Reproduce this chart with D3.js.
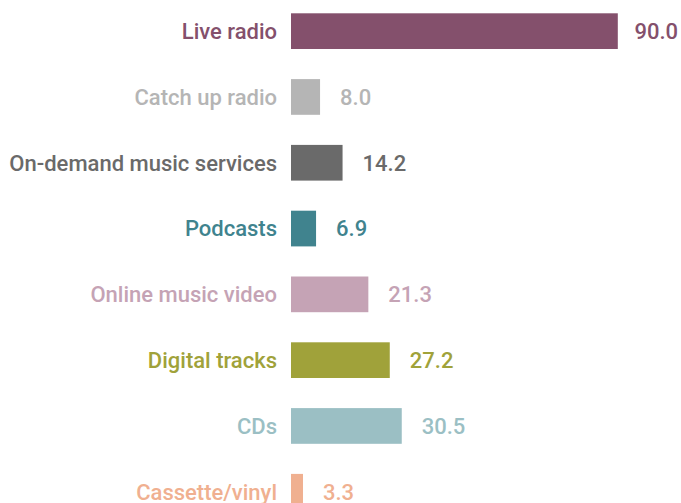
<!DOCTYPE html>
<html>
<head>
<meta charset="utf-8">
<script src="https://cdn.jsdelivr.net/npm/d3@7"></script>
<style>
  html, body { margin: 0; padding: 0; background: #ffffff; overflow: hidden; }
  svg { display: block; }
  text { font-family: Roboto, "Noto Sans", sans-serif; font-weight: 500; }
</style>
</head>
<body>
<svg id="chart" width="681" height="503"></svg>
<script>
const categories = ["Live radio", "Catch up radio", "On-demand music services", "Podcasts",
                    "Online music video", "Digital tracks", "CDs", "Cassette/vinyl"];
const values = [90.0, 8.0, 14.2, 6.9, 21.3, 27.2, 30.5, 3.3];
const colors = ["#84506c", "#b5b5b5", "#6a6a6a", "#40838e", "#c5a3b5", "#a0a23a", "#9bbfc4", "#f0b090"];

const W = 681, H = 503;
const svg = d3.select("#chart");

const x = d3.scaleLinear().domain([0, 90]).range([291, 617.8]);
const y = d3.scaleBand().domain(categories).range([13.3, 509.6]).paddingInner(0.4574).paddingOuter(0);

const data = categories.map((c, i) => ({ c, v: values[i], col: colors[i] }));

const g = svg.append("g");

g.selectAll("rect").data(data).enter().append("rect")
  .attr("x", x(0))
  .attr("y", d => y(d.c))
  .attr("width", d => x(d.v) - x(0))
  .attr("height", y.bandwidth())
  .attr("fill", d => d.col);

const fs = 22;
g.selectAll("text.cat").data(data).enter().append("text")
  .attr("class", "cat")
  .attr("x", x(0) - 14)
  .attr("y", d => y(d.c) + y.bandwidth() / 2)
  .attr("dy", "0.36em")
  .attr("text-anchor", "end")
  .attr("font-size", fs)
  .attr("fill", d => d.col)
  .text(d => d.c);

const vals = g.selectAll("text.val").data(data).enter().append("text")
  .attr("class", "val")
  .attr("y", d => y(d.c) + y.bandwidth() / 2)
  .attr("dy", "0.36em")
  .attr("font-size", fs)
  .attr("fill", d => d.col)
  .text(d => d.v.toFixed(1));

vals.each(function(d) {
  const w = this.getComputedTextLength();
  const px = Math.min(x(d.v) + 20, W - w - 3);
  d3.select(this).attr("x", px);
});
</script>
</body>
</html>
